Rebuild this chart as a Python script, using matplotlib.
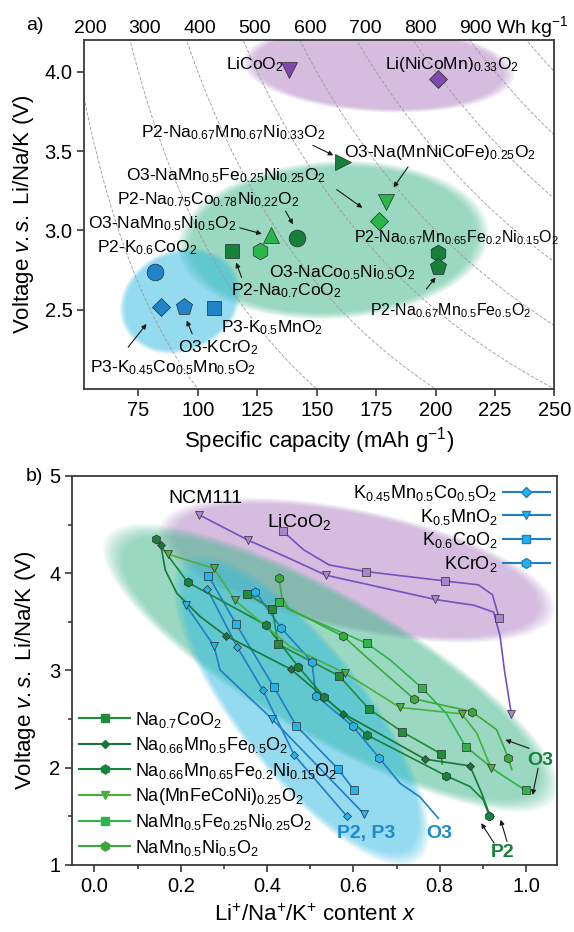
import matplotlib
matplotlib.use('Agg')
import matplotlib.pyplot as plt
import matplotlib.transforms as mtransforms
from matplotlib.patches import Ellipse
from matplotlib.lines import Line2D
import numpy as np

plt.rcParams['font.family'] = ['Liberation Sans', 'DejaVu Sans']
plt.rcParams['mathtext.fontset'] = 'custom'
plt.rcParams['mathtext.rm'] = 'Liberation Sans'
plt.rcParams['mathtext.it'] = 'Liberation Sans:italic'
plt.rcParams['mathtext.bf'] = 'Liberation Sans:bold'
plt.rcParams['mathtext.default'] = 'regular'

# ---------------- panel a data: capacity (mAh/g) vs average voltage ----------------
cap_a = [138.4, 201.0, 161.2, 179.2, 176.1, 141.8, 130.7, 126.1, 114.5, 201.0, 200.8, 81.8, 84.5, 94.2, 106.8]
volt_a = [4.01, 3.955, 3.43, 3.18, 3.06, 2.95, 2.97, 2.87, 2.87, 2.86, 2.77, 2.735, 2.52, 2.52, 2.51]
mark_a = ['v', 'D', '>', 'v', 'D', 'o', '^', 'h', 's', 'h', 'p', 'o', 'D', 'p', 's']
group_a = ['li', 'li', 'dk', 'lt', 'lt', 'dk', 'lt', 'lt', 'dk', 'dk', 'dk', 'k', 'k', 'k', 'k']
energies = [200, 300, 400, 500, 600, 700, 800, 900, 1000]
energy_labels = [200, 300, 400, 500, 600, 700, 800, 900]

# ---------------- panel b data: voltage profiles ----------------
ncm_x = [0.243, 0.356, 0.443, 0.536, 0.790, 0.880, 0.925, 0.940, 0.950, 0.966]
ncm_y = [4.60, 4.34, 4.17, 3.98, 3.73, 3.67, 3.60, 3.35, 3.00, 2.55]
ncm_mk = [0, 1, 3, 4, 9]
lco_x = [0.436, 0.485, 0.544, 0.629, 0.813, 0.890, 0.922, 0.9375]
lco_y = [4.435, 4.24, 4.085, 4.017, 3.92, 3.88, 3.78, 3.544]
lco_mk = [0, 3, 4, 7]

kmc_x = [0.2616, 0.331, 0.390, 0.463, 0.585]
kmc_y = [3.836, 3.24, 2.80, 2.13, 1.50]
kmn_x = [0.2115, 0.277, 0.291, 0.412, 0.625]
kmn_y = [3.674, 3.253, 3.006, 2.50, 1.523]
kmn_mk = [0, 1, 3, 4]
kco_x = [0.264, 0.328, 0.416, 0.468, 0.564, 0.601]
kco_y = [3.975, 3.479, 2.828, 2.43, 1.99, 1.773]
kcr_x = [0.373, 0.432, 0.504, 0.513, 0.598, 0.659, 0.708, 0.754, 0.797]
kcr_y = [3.808, 3.44, 3.09, 2.742, 2.43, 2.105, 1.84, 1.70, 1.48]
kcr_mk = [0, 1, 2, 3, 4, 5]

nco_x = [0.353, 0.412, 0.426, 0.567, 0.636, 0.712, 0.803, 0.806]
nco_y = [3.79, 3.63, 3.27, 2.944, 2.605, 2.372, 2.143, 2.04]
nco_mk = [0, 1, 2, 3, 4, 5, 6]
nmf_x = [0.154, 0.164, 0.191, 0.245, 0.305, 0.455, 0.577, 0.766, 0.870, 0.897, 0.917]
nmf_y = [4.29, 4.034, 3.794, 3.554, 3.355, 3.013, 2.556, 2.088, 2.019, 1.74, 1.50]
nmf_mk = [0, 4, 5, 6, 7, 8, 10]
nmfn_x = [0.142, 0.216, 0.397, 0.472, 0.532, 0.631, 0.815, 0.870, 0.901, 0.915]
nmfn_y = [4.353, 3.907, 3.469, 3.04, 2.73, 2.338, 1.917, 1.807, 1.67, 1.50]
nmfn_mk = [0, 1, 2, 3, 4, 5, 6, 9]
hea_x = [0.171, 0.277, 0.326, 0.453, 0.581, 0.708, 0.851, 0.886, 0.919]
hea_y = [4.195, 4.05, 3.72, 3.246, 2.972, 2.62, 2.554, 2.355, 1.996]
hea_mk = [0, 1, 2, 4, 5, 6, 8]
nmfn2_x = [0.428, 0.453, 0.631, 0.685, 0.758, 0.815, 0.860, 0.932, 0.999]
nmfn2_y = [3.70, 3.62, 3.28, 3.109, 2.824, 2.56, 2.218, 1.96, 1.766]
nmfn2_mk = [0, 2, 4, 6, 8]
nmn_x = [0.428, 0.434, 0.449, 0.577, 0.646, 0.7405, 0.874, 0.932, 0.959, 0.967]
nmn_y = [3.948, 3.76, 3.64, 3.35, 3.075, 2.708, 2.578, 2.39, 2.10, 1.98]
nmn_mk = [0, 3, 5, 6, 8]

col = {'li': '#7d4aab', 'dk': '#17803a', 'lt': '#2bb64a', 'k': '#2084c8'}
spine_c = '#3a3a3a'
blue_blob = '#30bfe8'


def blob(ax, cx, cy, w, h, ang, color, alpha, layers=14):
    # soft-edged ellipse, size in inches, centred on a data point
    tr = ax.figure.dpi_scale_trans + mtransforms.ScaledTranslation(cx, cy, ax.transData)
    a = 1 - (1 - alpha) ** (1.0 / layers)
    for k in range(layers):
        s = 1.04 - 0.09 * k / (layers - 1)
        ax.add_patch(Ellipse((0, 0), w * s, h * s, angle=ang, transform=tr,
                             facecolor=color, edgecolor='none', alpha=a, zorder=0))


def style_axes(ax):
    for sp in ax.spines.values():
        sp.set_color(spine_c)
        sp.set_linewidth(1.3)
    ax.tick_params(which='both', direction='out', color=spine_c, width=1.2, labelsize=14.5)
    ax.tick_params(which='major', length=5)
    ax.tick_params(which='minor', length=3)


fig = plt.figure(figsize=(5.74, 9.32), dpi=100)

# ================= panel a =================
axa = fig.add_axes([0.1467, 0.5826, 0.8193, 0.3745])
style_axes(axa)
axa.tick_params(top=False, right=False)

blob(axa, 176, 4.02, 2.62, 0.84, -3, '#b07cc6', 0.45)
blob(axa, 157, 2.94, 3.0, 1.52, 3, '#3cb98a', 0.5)
blob(axa, 92.6, 2.555, 1.2, 0.98, 25, blue_blob, 0.5)

cc = np.linspace(40, 260, 300)
for e in energies:
    axa.plot(cc, e / cc, ls=(0, (4, 2)), color='#9a9a9a', lw=0.6, zorder=1)

sizes = {'D': 9.5, 's': 10.5, 'p': 12.5}
for c, v, m, g in zip(cap_a, volt_a, mark_a, group_a):
    axa.plot(c, v, marker=m, ms=sizes.get(m, 12), color=col[g],
             mec='#2a2a2a', mew=0.5, ls='none', zorder=4)

axa.set_xlim(52.2, 250)
axa.set_ylim(2.0, 4.2)
axa.set_xticks([75, 100, 125, 150, 175, 200, 225, 250])
axa.set_yticks([2.5, 3.0, 3.5, 4.0])
axa.set_yticklabels(['2.5', '3.0', '3.5', '4.0'])
axa.set_xlabel('Specific capacity (mAh g$^{-1}$)', fontsize=16, labelpad=4)
axa.set_ylabel('Voltage $\\mathit{v.s.}$ Li/Na/K (V)', fontsize=16, labelpad=6)

# energy density labels along the top
top_tr = mtransforms.blended_transform_factory(axa.transData, axa.transAxes)
for e in energy_labels:
    axa.text(8.3 + 0.2314 * e, 1.019, str(e), transform=top_tr, ha='center',
             va='baseline', fontsize=14, clip_on=False)
axa.text(225.5, 1.019, 'Wh kg$^{-1}$', transform=top_tr, ha='left', va='baseline',
         fontsize=14, clip_on=False)
fig.text(0.045, 0.973, 'a)', fontsize=14, va='center')

fs = 12.5
labels_a = [
    ('LiCoO$_2$', 136.0, 4.017, 'right', fs),
    ('Li(NiCoMn)$_{0.33}$O$_2$', 178.7, 4.017, 'left', fs),
    ('P2-Na$_{0.67}$Mn$_{0.67}$Ni$_{0.33}$O$_2$', 76.1, 3.588, 'left', fs),
    ('O3-Na(MnNiCoFe)$_{0.25}$O$_2$', 161.5, 3.462, 'left', fs),
    ('O3-NaMn$_{0.5}$Fe$_{0.25}$Ni$_{0.25}$O$_2$', 69.9, 3.316, 'left', fs),
    ('P2-Na$_{0.75}$Co$_{0.78}$Ni$_{0.22}$O$_2$', 66.1, 3.163, 'left', fs),
    ('O3-NaMn$_{0.5}$Ni$_{0.5}$O$_2$', 53.7, 3.016, 'left', fs),
    ('P2-Na$_{0.67}$Mn$_{0.65}$Fe$_{0.2}$Ni$_{0.15}$O$_2$', 165.8, 2.922, 'left', 11.5),
    ('O3-NaCo$_{0.5}$Ni$_{0.5}$O$_2$', 129.9, 2.703, 'left', fs),
    ('P2-K$_{0.6}$CoO$_2$', 57.6, 2.86, 'left', fs),
    ('P2-Na$_{0.7}$CoO$_2$', 113.8, 2.588, 'left', fs),
    ('P2-Na$_{0.67}$Mn$_{0.5}$Fe$_{0.5}$O$_2$', 172.3, 2.462, 'left', 11.5),
    ('P3-K$_{0.5}$MnO$_2$', 109.9, 2.357, 'left', fs),
    ('O3-KCrO$_2$', 91.5, 2.232, 'left', fs),
    ('P3-K$_{0.45}$Co$_{0.5}$Mn$_{0.5}$O$_2$', 54.5, 2.107, 'left', fs),
]
for t, x, y, ha, f in labels_a:
    axa.text(x, y, t, ha=ha, va='baseline', fontsize=f, zorder=5)

arrows_a = [
    ((148.4, 3.536), (157.0, 3.473)),
    ((188.4, 3.40), (182.3, 3.27)),
    ((158.4, 3.257), (169.2, 3.142)),
    ((136.9, 3.121), (140.0, 3.038)),
    ((117.6, 3.016), (126.9, 2.978)),
    ((118.4, 2.703), (116.1, 2.797)),
    ((196.1, 2.63), (200.0, 2.703)),
    ((97.6, 2.348), (95.3, 2.432)),
    ((70.7, 2.264), (78.4, 2.41)),
]
for tail, tip in arrows_a:
    axa.annotate('', xy=tip, xytext=tail,
                 arrowprops=dict(arrowstyle='-|>', lw=0.8, color='#1a1a1a',
                                 mutation_scale=7, shrinkA=0, shrinkB=0), zorder=5)

# ================= panel b =================
axb = fig.add_axes([0.1256, 0.0719, 0.845, 0.4174])
style_axes(axb)

blob(axb, 0.608, 4.03, 3.9, 1.16, -12, '#b07cc6', 0.45)
blob(axb, 0.548, 3.027, 5.0, 1.38, -30, '#3cb98a', 0.5)
blob(axb, 0.479, 2.595, 3.68, 1.24, -52, blue_blob, 0.5)


def profile(x, y, mk, m, lc, fc, ms=5.5):
    axb.plot(x, y, color=lc, lw=1.2, zorder=2)
    axb.plot([x[i] for i in mk], [y[i] for i in mk], ls='none', marker=m, ms=ms,
             mfc=fc, mec='#2d2d2d', mew=0.5, zorder=3)


li_line, li_face = '#7550c0', '#a884c9'
profile(ncm_x, ncm_y, ncm_mk, 'v', li_line, li_face)
profile(lco_x, lco_y, lco_mk, 's', li_line, li_face)

k_line, k_face = '#1f7ec6', '#22b4ea'
profile(kmc_x, kmc_y, range(len(kmc_x)), 'D', k_line, k_face, 4.5)
profile(kmn_x, kmn_y, kmn_mk, 'v', k_line, k_face)
profile(kco_x, kco_y, range(len(kco_x)), 's', k_line, k_face)
profile(kcr_x, kcr_y, kcr_mk, 'h', k_line, k_face, 6.5)

g_series = [
    (nco_x, nco_y, nco_mk, 's', '#238b3a', 5.5, 'Na$_{0.7}$CoO$_2$'),
    (nmf_x, nmf_y, nmf_mk, 'D', '#17773a', 4.5, 'Na$_{0.66}$Mn$_{0.5}$Fe$_{0.5}$O$_2$'),
    (nmfn_x, nmfn_y, nmfn_mk, 'h', '#14853a', 6.5, 'Na$_{0.66}$Mn$_{0.65}$Fe$_{0.2}$Ni$_{0.15}$O$_2$'),
    (hea_x, hea_y, hea_mk, 'v', '#4caf3c', 6, 'Na(MnFeCoNi)$_{0.25}$O$_2$'),
    (nmfn2_x, nmfn2_y, nmfn2_mk, 's', '#2fb44a', 5.5, 'NaMn$_{0.5}$Fe$_{0.25}$Ni$_{0.25}$O$_2$'),
    (nmn_x, nmn_y, nmn_mk, 'h', '#3da83a', 6.5, 'NaMn$_{0.5}$Ni$_{0.5}$O$_2$'),
]
g_handles = []
for x, y, mk, m, c, ms, lab in g_series:
    profile(x, y, mk, m, c, c, ms)
    g_handles.append(Line2D([], [], color=c, lw=1.5, marker=m, ms=ms, mfc=c, mec=c, label=lab))

k_handles = [
    Line2D([], [], color=k_line, lw=1.5, marker='D', ms=5, mfc=k_face, mec=k_line, label='K$_{0.45}$Mn$_{0.5}$Co$_{0.5}$O$_2$'),
    Line2D([], [], color=k_line, lw=1.5, marker='v', ms=6, mfc=k_face, mec=k_line, label='K$_{0.5}$MnO$_2$'),
    Line2D([], [], color=k_line, lw=1.5, marker='s', ms=5.5, mfc=k_face, mec=k_line, label='K$_{0.6}$CoO$_2$'),
    Line2D([], [], color=k_line, lw=1.5, marker='h', ms=7, mfc=k_face, mec=k_line, label='KCrO$_2$'),
]

leg1 = axb.legend(handles=g_handles, loc='lower left', bbox_to_anchor=(0.0, 0.0),
                  frameon=False, fontsize=13, handlelength=2.8, handletextpad=0.3,
                  labelspacing=0.3, borderaxespad=0.2, borderpad=0.2)
axb.add_artist(leg1)
axb.legend(handles=k_handles, loc='upper right', bbox_to_anchor=(1.0, 1.0),
           frameon=False, fontsize=13, handlelength=2.6, handletextpad=0.3,
           labelspacing=0.2, markerfirst=False, borderaxespad=0.2, borderpad=0.2)

axb.text(0.1715, 4.719, 'NCM111', fontsize=14, va='baseline')
axb.text(0.400, 4.472, 'LiCoO$_2$', fontsize=14, va='baseline')
axb.text(0.629, 1.276, 'P2, P3', fontsize=14, fontweight='bold', color='#1f8ad0', ha='center', va='baseline')
axb.text(0.799, 1.276, 'O3', fontsize=14, fontweight='bold', color='#1f8ad0', ha='center', va='baseline')
axb.text(0.946, 1.087, 'P2', fontsize=14, fontweight='bold', color='#17803a', ha='center', va='baseline')
axb.text(1.032, 2.03, 'O3', fontsize=14, fontweight='bold', color='#17803a', ha='center', va='baseline')

arrows_b = [
    ((0.926, 1.225), (0.896, 1.43)),
    ((0.956, 1.24), (0.941, 1.465)),
    ((1.007, 2.20), (0.952, 2.287)),
    ((1.028, 1.996), (1.015, 1.72)),
]
for tail, tip in arrows_b:
    axb.annotate('', xy=tip, xytext=tail,
                 arrowprops=dict(arrowstyle='-|>', lw=0.8, color='#1a1a1a',
                                 mutation_scale=7, shrinkA=0, shrinkB=0), zorder=5)

axb.set_xlim(-0.0517, 1.072)
axb.set_ylim(1, 5)
axb.set_xticks([0.0, 0.2, 0.4, 0.6, 0.8, 1.0])
axb.set_xticklabels(['0.0', '0.2', '0.4', '0.6', '0.8', '1.0'])
axb.set_xticks(np.arange(0.1, 1.0, 0.2), minor=True)
axb.set_yticks([1, 2, 3, 4, 5])
axb.set_yticks([1.5, 2.5, 3.5, 4.5], minor=True)
axb.set_xlabel('Li$^{+}$/Na$^{+}$/K$^{+}$ content $\\mathit{x}$', fontsize=16, labelpad=6)
axb.set_ylabel('Voltage $\\mathit{v.s.}$ Li/Na/K (V)', fontsize=16, labelpad=8)
fig.text(0.045, 0.489, 'b)', fontsize=14, va='center')

fig.savefig('out.png', dpi=100)
